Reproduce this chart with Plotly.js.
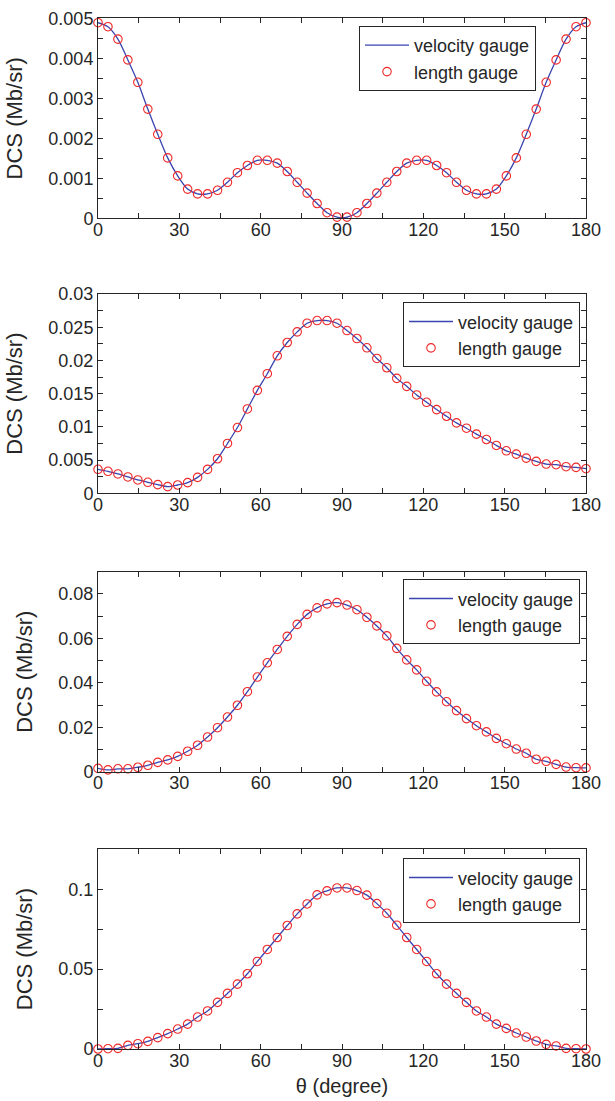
<!DOCTYPE html>
<html>
<head>
<meta charset="utf-8">
<script src="https://cdn.plot.ly/plotly-3.0.1.min.js"></script>
<style>
  html, body { margin: 0; padding: 0; background: #fff; }
  #chart { width: 615px; height: 1101px; }
</style>
</head>
<body>
<div id="chart"></div>
<script>
// Scattering angle (degree)
const theta = [0, 3.67, 7.35, 11.02, 14.69, 18.37, 22.04, 25.71, 29.39, 33.06,
  36.73, 40.41, 44.08, 47.76, 51.43, 55.10, 58.78, 62.45, 66.12, 69.80,
  73.47, 77.14, 80.82, 84.49, 88.16, 91.84, 95.51, 99.18, 102.86, 106.53,
  110.20, 113.88, 117.55, 121.22, 124.90, 128.57, 132.24, 135.92, 139.59, 143.27,
  146.94, 150.61, 154.29, 157.96, 161.63, 165.31, 168.98, 172.65, 176.33, 180];

// DCS (Mb/sr), panel 1
const dcs1 = [0.00489, 0.00479, 0.00448, 0.00396, 0.00340, 0.00273, 0.00210, 0.00151, 0.00106, 0.00073,
  0.00061, 0.00061, 0.00070, 0.00090, 0.00114, 0.00132, 0.00145, 0.00145, 0.00138, 0.00117,
  0.00090, 0.00063, 0.00037, 0.00014, 0.00003, 0.00003, 0.00014, 0.00037, 0.00063, 0.00090,
  0.00117, 0.00138, 0.00145, 0.00145, 0.00132, 0.00114, 0.00090, 0.00070, 0.00061, 0.00061,
  0.00073, 0.00106, 0.00151, 0.00210, 0.00273, 0.00340, 0.00396, 0.00448, 0.00479, 0.00489];

// panel 2
const dcs2 = [0.00361, 0.00331, 0.00291, 0.00246, 0.00201, 0.00166, 0.00130, 0.00100, 0.00125, 0.00160,
  0.00240, 0.00360, 0.00520, 0.00750, 0.00990, 0.01270, 0.01550, 0.01800, 0.02070, 0.02270,
  0.02430, 0.02560, 0.02600, 0.02600, 0.02560, 0.02450, 0.02330, 0.02190, 0.02030, 0.01890,
  0.01730, 0.01610, 0.01480, 0.01370, 0.01260, 0.01160, 0.01060, 0.00980, 0.00890, 0.00810,
  0.00720, 0.00640, 0.00590, 0.00530, 0.00480, 0.00440, 0.00430, 0.00400, 0.00390, 0.00370];

// panel 3
const dcs3 = [0.0015, 0.0008, 0.0013, 0.0013, 0.0020, 0.0029, 0.0042, 0.0053, 0.0069, 0.0092,
  0.0119, 0.0156, 0.0198, 0.0246, 0.0299, 0.0360, 0.0426, 0.0490, 0.0550, 0.0609,
  0.0663, 0.0708, 0.0737, 0.0755, 0.0761, 0.0750, 0.0729, 0.0695, 0.0656, 0.0611,
  0.0555, 0.0503, 0.0458, 0.0407, 0.0359, 0.0315, 0.0275, 0.0239, 0.0207, 0.0179,
  0.0150, 0.0126, 0.0102, 0.0083, 0.0056, 0.0047, 0.0033, 0.0021, 0.0018, 0.0017];

// panel 4
const dcs4 = [0, 0.0002, 0.0004, 0.0023, 0.0033, 0.0048, 0.0071, 0.0096, 0.0125, 0.0156,
  0.0200, 0.0238, 0.0292, 0.0348, 0.0406, 0.0471, 0.0548, 0.0623, 0.0698, 0.0773,
  0.0846, 0.0908, 0.0965, 0.0990, 0.1008, 0.1008, 0.0992, 0.0963, 0.0910, 0.0850,
  0.0775, 0.0698, 0.0623, 0.0548, 0.0471, 0.0406, 0.0348, 0.0292, 0.0238, 0.0200,
  0.0156, 0.0129, 0.0100, 0.0075, 0.0050, 0.0029, 0.0019, 0.0004, 0.0002, 0];

const panels = [dcs1, dcs2, dcs3, dcs4];
const yRanges = [[0, 0.005], [0, 0.03], [0, 0.09], [0, 0.125]];
const yDticks = [0.001, 0.005, 0.02, 0.05];
const yMinor = [0.0005, 0.0025, 0.01, 0.025];
const xTitle = 'θ (degree)';
const yTitle = 'DCS (Mb/sr)';
const names = ['velocity gauge', 'length gauge'];

// ---- styling / layout ----
const W = 615, H = 1101;
const M = {l: 98, r: 29, t: 18, b: 52};
const plotH = H - M.t - M.b;
// pixel extents (top, bottom) of each panel
const pix = [[18.3, 218.3], [294, 493.3], [571.7, 771.7], [849.3, 1049.3]];
const legTop = [26, 302.3, 579.3, 858.3];
const legRight = [536, 580, 580, 580];

const ink = '#262626';
const sans = 'Liberation Sans, Arial, Helvetica, sans-serif';

const traces = [];
const layout = {
  width: W, height: H,
  margin: M,
  paper_bgcolor: '#fff', plot_bgcolor: '#fff',
  showlegend: true,
  font: {family: sans, size: 18, color: ink}
};

function yfrac(px) { return (H - M.b - px) / plotH; }

panels.forEach((vals, k) => {
  const n = k + 1;
  const xa = 'x' + (n === 1 ? '' : n), ya = 'y' + (n === 1 ? '' : n);
  const leg = 'legend' + (n === 1 ? '' : n);
  traces.push({
    x: theta, y: vals, xaxis: xa, yaxis: ya, legend: leg,
    type: 'scatter', mode: 'lines', name: names[0],
    line: {color: '#3a45b0', width: 1.3, shape: 'spline', smoothing: 0.8},
    cliponaxis: false
  });
  traces.push({
    x: theta, y: vals, xaxis: xa, yaxis: ya, legend: leg,
    type: 'scatter', mode: 'markers', name: names[1],
    marker: {symbol: 'circle-open', size: 8.5, color: '#f02828', line: {width: 1.1, color: '#f02828'}},
    cliponaxis: false
  });
  const common = {
    showline: true, linecolor: ink, linewidth: 1, mirror: 'ticks',
    ticks: 'inside', ticklen: 5, tickcolor: ink, tickwidth: 1,
    showgrid: false, zeroline: false, fixedrange: true,
    tickfont: {family: sans, size: 18, color: ink}
  };
  layout['xaxis' + (n === 1 ? '' : n)] = Object.assign({}, common, {
    anchor: ya, domain: [0, 1], range: [0, 180], tick0: 0, dtick: 30,
    ticklabelstandoff: -5,
    minor: {ticks: 'inside', ticklen: 5, tickcolor: ink, tick0: 0, dtick: 15, showgrid: false},
    title: n === 4 ? {text: xTitle, font: {family: sans, size: 20, color: ink}, standoff: 9} : {text: ''}
  });
  layout['yaxis' + (n === 1 ? '' : n)] = Object.assign({}, common, {
    anchor: xa, domain: [yfrac(pix[k][1]), yfrac(pix[k][0])],
    range: yRanges[k], tick0: 0, dtick: yDticks[k],
    minor: {ticks: 'inside', ticklen: 5, tickcolor: ink, tick0: 0, dtick: yMinor[k], showgrid: false},
    title: {text: yTitle, font: {family: sans, size: 22, color: ink}, standoff: 19}
  });
  layout[leg] = {
    x: (legRight[k] - M.l) / (W - M.l - M.r), xanchor: 'right',
    y: yfrac(legTop[k]), yanchor: 'top',
    bgcolor: '#fff', bordercolor: ink, borderwidth: 1,
    font: {family: sans, size: 18, color: ink},
    tracegroupgap: 0, itemwidth: 44
  };
});

Plotly.newPlot('chart', traces, layout, {displayModeBar: false, staticPlot: true});
</script>
</body>
</html>
